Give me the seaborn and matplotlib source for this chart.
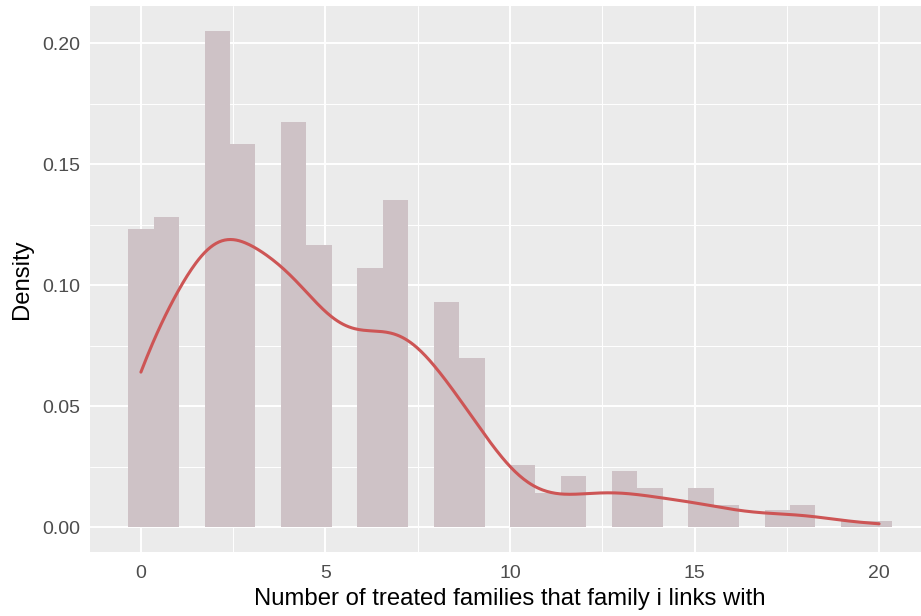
import numpy as np
import pandas as pd
import seaborn as sns
import matplotlib.pyplot as plt
from matplotlib.ticker import MultipleLocator

# Number of treated families each family links with, and how many families have that number
n_links = list(range(0, 21))
n_families = [53, 55, 88, 68, 72, 50, 46, 58, 40, 30, 11, 6, 9, 10, 7, 7, 4, 3, 4, 1, 1]

x_ticks = [0, 5, 10, 15, 20]
y_ticks = [0.00, 0.05, 0.10, 0.15, 0.20]
x_label = "Number of treated families that family i links with"
y_label = "Density"

raw = np.repeat(n_links, n_families)
df = pd.DataFrame({"links": raw})

# 30 bins over the data range, centred on the range ends
n_bins = 30
span = raw.max() - raw.min()
binwidth = span / (n_bins - 1)
edges = raw.min() - binwidth / 2 + binwidth * np.arange(n_bins + 1)

# R-style rule-of-thumb bandwidth (bw.nrd0)
sd = raw.std(ddof=1)
iqr = np.subtract(*np.percentile(raw, [75, 25]))
bw = 0.9 * min(sd, iqr / 1.34) * len(raw) ** (-0.2)

sns.set_theme(style="darkgrid")
plt.rcParams["font.family"] = ["Liberation Sans", "DejaVu Sans"]

W, H, DPI = 921, 616, 100
fig = plt.figure(figsize=(W / DPI, H / DPI), dpi=DPI)
fig.patch.set_facecolor("white")
ax = fig.add_axes([90 / W, 64 / H, 840 / W, 546 / H])
ax.set_facecolor("#EBEBEB")

sns.histplot(data=df, x="links", bins=edges, stat="density", color="#CEC2C6",
             alpha=1, linewidth=0, ax=ax, zorder=2)
sns.kdeplot(data=df, x="links", bw_method=bw / sd, cut=0, gridsize=512,
            color="#CD5555", linewidth=2.2, ax=ax, zorder=3)

lo, hi = edges[0], edges[-1]
pad = 0.05 * (hi - lo)
ax.set_xlim(lo - pad, hi + pad)
ax.set_ylim(-0.0103, 0.2153)

ax.set_xticks(x_ticks)
ax.set_yticks(y_ticks)
ax.set_yticklabels([f"{v:.2f}" for v in y_ticks])
ax.xaxis.set_minor_locator(MultipleLocator(2.5))
ax.yaxis.set_minor_locator(MultipleLocator(0.025))

ax.grid(which="major", color="white", linewidth=1.4, zorder=0)
ax.grid(which="minor", color="white", linewidth=0.7, zorder=0)
ax.set_axisbelow(True)
for s in ax.spines.values():
    s.set_visible(False)

ax.tick_params(axis="both", which="major", length=3.5, width=1.1, color="#333333",
               labelcolor="#4D4D4D", labelsize=14)
ax.tick_params(axis="x", which="major", pad=5.5)
ax.tick_params(axis="y", which="major", pad=3.5)
ax.tick_params(axis="both", which="minor", length=0)

ax.set_xlabel(x_label, fontsize=17.2, color="black", labelpad=4.5)
ax.set_ylabel(y_label, fontsize=17.2, color="black", labelpad=7)

fig.savefig("out.png", dpi=DPI, facecolor="white")
